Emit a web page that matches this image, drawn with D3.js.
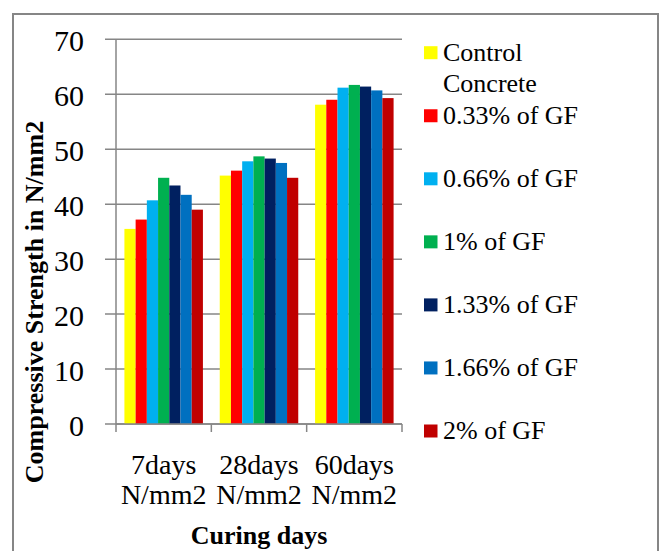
<!DOCTYPE html>
<html>
<head>
<meta charset="utf-8">
<script src="https://cdn.jsdelivr.net/npm/d3@7"></script>
<style>
  html, body { margin: 0; padding: 0; background: #fff; }
  svg { display: block; }
</style>
</head>
<body>
<svg id="chart" width="662" height="551"></svg>
<script>
const categories = ["7days|N/mm2", "28days|N/mm2", "60days|N/mm2"];
const seriesNames = ["Control|Concrete", "0.33% of GF", "0.66% of GF", "1% of GF", "1.33% of GF", "1.66% of GF", "2% of GF"];
const seriesColors = ["#FFFF00", "#FF0000", "#00B0F0", "#00B050", "#002060", "#0070C0", "#C00000"];
const controlConcrete = [35.5, 45.2, 58.1];
const gf033 = [37.2, 46.1, 59.0];
const gf066 = [40.7, 47.8, 61.2];
const gf100 = [44.8, 48.7, 61.7];
const gf133 = [43.4, 48.3, 61.4];
const gf166 = [41.7, 47.5, 60.7];
const gf200 = [39.0, 44.8, 59.3];
const seriesValues = [controlConcrete, gf033, gf066, gf100, gf133, gf166, gf200];
const yTicks = [0, 10, 20, 30, 40, 50, 60, 70];
const yTitle = "Compressive Strength in N/mm2";
const xTitle = "Curing days";

const FONT = "'Liberation Serif', 'Times New Roman', Times, serif";
const svg = d3.select("#chart");
const gridColor = "#868686";

// outer frame
svg.append("path")
  .attr("d", "M13,560 L13,14 L658,14 L658,560")
  .attr("fill", "none").attr("stroke", gridColor).attr("stroke-width", 2);

const plot = { left: 116, right: 402, top: 39.3, bottom: 424 };

const y = d3.scaleLinear().domain([0, 70]).range([plot.bottom, plot.top]);
const x0 = d3.scaleBand().domain(categories).range([plot.left, plot.right]).padding(0);
const bw = x0.bandwidth();
const barW = bw / 8.5;
const x1 = d3.scaleBand().domain(seriesNames).range([0.75 * barW, bw - 0.75 * barW]).padding(0);

// gridlines
svg.append("g").selectAll("line").data(yTicks).join("line")
  .attr("x1", plot.left - 11).attr("x2", plot.right)
  .attr("y1", d => y(d)).attr("y2", d => y(d))
  .attr("stroke", gridColor).attr("stroke-width", 1.5);

// y axis line
svg.append("line")
  .attr("x1", plot.left).attr("x2", plot.left)
  .attr("y1", plot.top).attr("y2", plot.bottom)
  .attr("stroke", gridColor).attr("stroke-width", 1.5);

// y tick labels
svg.append("g").selectAll("text").data(yTicks).join("text")
  .attr("x", 84).attr("y", d => y(d) + 12)
  .attr("text-anchor", "end")
  .attr("font-family", FONT)
  .attr("font-size", 30)
  .attr("fill", "#000")
  .text(d => d);

// bars
const barData = [];
seriesNames.forEach((s, si) => {
  categories.forEach((c, ci) => {
    barData.push({ s, c, v: seriesValues[si][ci], color: seriesColors[si] });
  });
});
svg.append("g").selectAll("rect").data(barData).join("rect")
  .attr("x", d => x0(d.c) + x1(d.s))
  .attr("width", x1.bandwidth())
  .attr("y", d => y(d.v))
  .attr("height", d => y(0) - y(d.v))
  .attr("fill", d => d.color);

// x axis line and ticks
svg.append("line")
  .attr("x1", plot.left).attr("x2", plot.right)
  .attr("y1", plot.bottom).attr("y2", plot.bottom)
  .attr("stroke", gridColor).attr("stroke-width", 1.5);
const boundaries = categories.map(c => x0(c)).concat([x0(categories[categories.length - 1]) + bw]);
svg.append("g").selectAll("line").data(boundaries).join("line")
  .attr("x1", d => d).attr("x2", d => d)
  .attr("y1", plot.bottom).attr("y2", plot.bottom + 8)
  .attr("stroke", gridColor).attr("stroke-width", 1.5);

// x category labels
categories.forEach(c => {
  const t = svg.append("text")
    .attr("x", x0(c) + bw / 2).attr("y", 474)
    .attr("text-anchor", "middle")
    .attr("font-family", FONT)
    .attr("font-size", 28)
    .attr("fill", "#000");
  c.split("|").forEach((p, i) => {
    t.append("tspan").attr("x", x0(c) + bw / 2).attr("dy", i === 0 ? 0 : 30).text(p);
  });
});

// x title
svg.append("text")
  .attr("x", (plot.left + plot.right) / 2).attr("y", 544)
  .attr("text-anchor", "middle")
  .attr("font-family", FONT)
  .attr("font-size", 26).attr("font-weight", "bold")
  .attr("fill", "#000")
  .text(xTitle);

// y title
svg.append("text")
  .attr("transform", "translate(43,302) rotate(-90)")
  .attr("text-anchor", "middle")
  .attr("font-family", FONT)
  .attr("font-size", 26).attr("font-weight", "bold")
  .attr("fill", "#000")
  .text(yTitle);

// legend
const legend = svg.append("g");
seriesNames.forEach((s, i) => {
  const base = 60.7 + i * 63.05;
  legend.append("rect")
    .attr("x", 424).attr("y", base - 14.5)
    .attr("width", 13.5).attr("height", 13)
    .attr("fill", seriesColors[i]);
  const t = legend.append("text")
    .attr("x", 443).attr("y", base)
    .attr("font-family", FONT)
    .attr("font-size", 26)
    .attr("fill", "#000");
  s.split("|").forEach((p, j) => {
    t.append("tspan").attr("x", 443).attr("dy", j === 0 ? 0 : 31).text(p);
  });
});
</script>
</body>
</html>
